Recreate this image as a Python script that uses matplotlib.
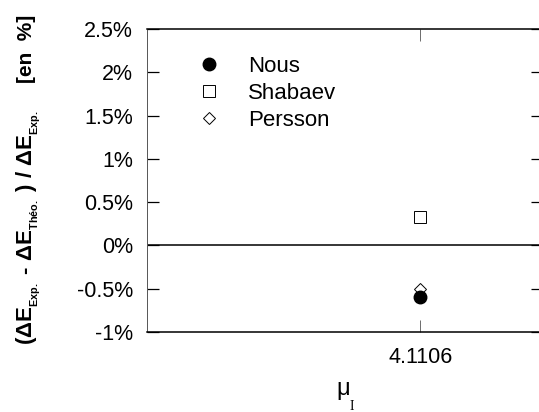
import matplotlib
matplotlib.use("Agg")
import matplotlib.pyplot as plt
from matplotlib.ticker import FuncFormatter

# ==================== Données ====================
mu_I = [4.1106]
nous = [-0.60]
shabaev = [0.33]
persson = [-0.50]

y_ticks = [-1, -0.5, 0, 0.5, 1, 1.5, 2, 2.5]
x_ticks = [4.1106]
x_tick_labels = ["4.1106"]

# ==================== Style ====================
plt.rcParams['font.family'] = ['Liberation Sans', 'DejaVu Sans']
plt.rcParams['mathtext.fontset'] = 'custom'
plt.rcParams['mathtext.rm'] = 'Liberation Sans'
plt.rcParams['mathtext.it'] = 'Liberation Sans:italic'
plt.rcParams['mathtext.bf'] = 'Liberation Sans:bold'

W, H = 539, 412
fig = plt.figure(figsize=(W / 100, H / 100), dpi=100)
ax = fig.add_axes([147 / W, 1 - 332 / H, 396 / W, 303 / H])

# ---------- Points ----------
ax.plot(mu_I, nous, 'o', ms=9, color='black', zorder=4, label='Nous')
ax.plot(mu_I, shabaev, 's', ms=8, mfc='white', mec='black', mew=0.7, zorder=3, label='Shabaev')
ax.plot(mu_I, persson, 'D', ms=6, mfc='white', mec='black', mew=0.7, zorder=3, label='Persson')

ax.axhline(0, color='black', lw=1.1, zorder=2)

# ---------- Axes ----------
ax.set_xlim(3.42, 4.42)
ax.set_ylim(-1, 2.5)
ax.set_yticks(y_ticks)
ax.yaxis.set_major_formatter(FuncFormatter(lambda v, p: '%g%%' % v))
ax.set_xticks(x_ticks)
ax.set_xticklabels(x_tick_labels)

ax.tick_params(axis='y', direction='in', length=8.6, width=0.9, left=True, right=True,
               labelsize=15.5, pad=10)
ax.tick_params(axis='x', direction='in', length=8.6, width=0.6, top=True, bottom=True,
               color='#555555', labelsize=15.5, pad=10.5)
for s in ax.spines.values():
    s.set_linewidth(1.1)
ax.spines['left'].set_linewidth(0.7)
ax.spines['left'].set_color('#555555')

# ---------- Légende ----------
ax.legend(loc='upper left', bbox_to_anchor=(0.129, 0.91), frameon=False, fontsize=16,
          handlelength=1.0, handletextpad=1.25, labelspacing=0.26, borderpad=0,
          borderaxespad=0)

# ---------- Titres des axes ----------
ylabel = (r'$\mathbf{(\Delta E_{{}_{Exp.}}}$ - '
          r'$\mathbf{\Delta E_{{}_{Théo.}}}$ ) / '
          r'$\mathbf{\Delta E_{{}_{Exp.}}}$')
fig.text(28 / W, 1 - 228 / H, ylabel, rotation=90, ha='center', va='center',
         fontsize=16, fontweight='bold')
fig.text(26 / W, 1 - 49 / H, '[en  %]', rotation=90, ha='center', va='center',
         fontsize=15, fontweight='bold')
fig.text(343 / W, 1 - 395 / H, 'μ', ha='center', va='baseline', fontsize=17)
fig.text(352 / W, 1 - 410 / H, 'I', ha='center', va='baseline', fontsize=10,
         family='Liberation Serif')

fig.savefig('out.png', dpi=100)
